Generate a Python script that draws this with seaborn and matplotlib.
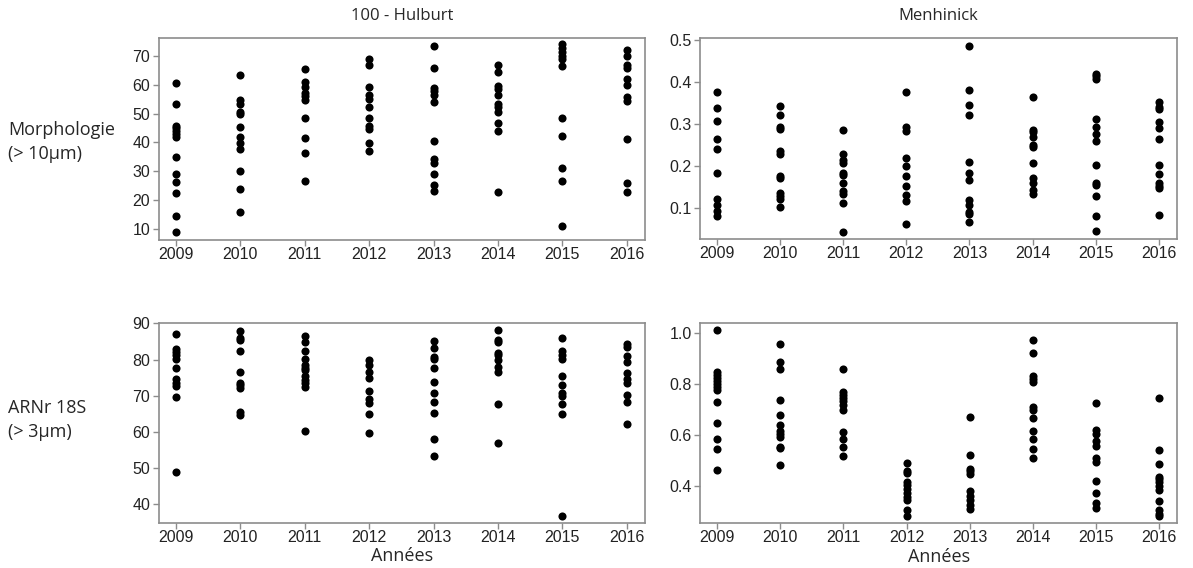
"""
Diversity indices (100 - Hulburt, Menhinick) per year,
morphology (> 10um) vs 18S rRNA (> 3um). Saves out.png.
"""

import pandas as pd
import matplotlib
matplotlib.use("Agg")
import matplotlib.pyplot as plt
import seaborn as sns

YEARS = [2009, 2010, 2011, 2012, 2013, 2014, 2015, 2016]

# one inner list per year (2009 -> 2016)
hulburt_morpho = [
    [60.4, 53.3, 45.8, 45.0, 44.0, 42.9, 42.0, 35.0, 29.0, 26.2, 22.7, 14.7, 9.1],
    [63.2, 54.6, 53.3, 50.5, 49.7, 45.4, 42.0, 39.9, 37.6, 30.0, 23.8, 16.0],
    [65.4, 61.0, 59.3, 57.0, 56.2, 54.7, 48.6, 41.7, 36.3, 26.7],
    [68.9, 66.9, 59.2, 56.3, 54.9, 52.3, 48.5, 45.6, 44.6, 39.8, 37.2],
    [73.3, 65.7, 58.9, 57.7, 56.5, 54.0, 40.5, 34.4, 32.8, 29.1, 25.4, 23.2],
    [66.7, 64.2, 59.6, 58.4, 56.3, 53.3, 52.2, 50.4, 46.9, 44.0, 22.9],
    [73.9, 72.5, 71.3, 69.9, 68.7, 66.3, 48.6, 42.2, 31.3, 26.7, 11.0],
    [72.0, 69.9, 66.9, 65.7, 62.1, 59.8, 55.8, 54.2, 41.3, 26.0, 23.0],
]
menhinick_morpho = [
    [0.377, 0.339, 0.308, 0.264, 0.241, 0.184, 0.122, 0.106, 0.092, 0.081],
    [0.343, 0.320, 0.292, 0.288, 0.236, 0.229, 0.176, 0.171, 0.136, 0.129, 0.121, 0.102],
    [0.285, 0.228, 0.215, 0.207, 0.184, 0.177, 0.158, 0.141, 0.132, 0.111, 0.041],
    [0.377, 0.293, 0.284, 0.219, 0.199, 0.176, 0.153, 0.130, 0.117, 0.062],
    [0.486, 0.381, 0.345, 0.322, 0.209, 0.184, 0.166, 0.118, 0.107, 0.090, 0.084, 0.067],
    [0.365, 0.286, 0.280, 0.269, 0.250, 0.244, 0.207, 0.171, 0.158, 0.142, 0.133],
    [0.420, 0.415, 0.407, 0.311, 0.293, 0.277, 0.260, 0.203, 0.160, 0.155, 0.127, 0.081, 0.044],
    [0.351, 0.341, 0.336, 0.305, 0.289, 0.264, 0.201, 0.181, 0.158, 0.153, 0.147, 0.083],
]
hulburt_18s = [
    [87.1, 82.9, 82.2, 81.2, 80.1, 77.6, 74.6, 73.5, 72.7, 69.6, 48.8],
    [87.9, 86.0, 85.4, 82.3, 76.6, 73.4, 72.9, 72.2, 65.4, 64.6],
    [86.6, 84.8, 82.3, 80.3, 78.6, 77.8, 77.1, 75.6, 74.5, 73.6, 72.4, 60.3],
    [79.8, 78.6, 76.7, 74.9, 71.2, 69.0, 68.0, 65.0, 59.7],
    [85.1, 83.3, 80.8, 80.1, 77.8, 73.9, 70.9, 68.3, 65.2, 58.0, 53.4],
    [88.3, 85.3, 84.8, 81.9, 81.2, 79.8, 77.9, 76.6, 67.6, 56.9],
    [85.9, 82.3, 81.3, 80.2, 75.6, 72.9, 70.7, 70.0, 67.6, 64.9, 36.8],
    [84.3, 83.5, 80.9, 79.4, 76.4, 74.6, 73.4, 70.1, 68.3, 62.1],
]
menhinick_18s = [
    [1.013, 0.848, 0.838, 0.826, 0.813, 0.800, 0.788, 0.779, 0.732, 0.647, 0.586, 0.545, 0.463],
    [0.957, 0.888, 0.861, 0.736, 0.680, 0.639, 0.616, 0.604, 0.593, 0.553, 0.548, 0.481],
    [0.860, 0.770, 0.758, 0.746, 0.735, 0.720, 0.698, 0.612, 0.583, 0.552, 0.518],
    [0.490, 0.460, 0.452, 0.417, 0.404, 0.388, 0.373, 0.358, 0.344, 0.307, 0.281],
    [0.672, 0.522, 0.469, 0.458, 0.448, 0.380, 0.363, 0.344, 0.327, 0.311],
    [0.975, 0.923, 0.831, 0.820, 0.809, 0.711, 0.699, 0.669, 0.618, 0.586, 0.546, 0.510],
    [0.725, 0.620, 0.603, 0.578, 0.558, 0.511, 0.495, 0.420, 0.371, 0.335, 0.316],
    [0.746, 0.541, 0.488, 0.437, 0.426, 0.416, 0.399, 0.384, 0.342, 0.306, 0.291, 0.281],
]

COL_TITLES = ["100 - Hulburt", "Menhinick"]
ROW_LABELS = ["Morphologie\n(> 10µm)", "ARNr 18S\n(> 3µm)"]
X_LABEL = "Années"


def to_frame(per_year):
    rows = [(y, v) for y, vals in zip(YEARS, per_year) for v in vals]
    return pd.DataFrame(rows, columns=["year", "value"])


sns.set_theme(style="white")
plt.rcParams["font.family"] = ["Liberation Sans", "DejaVu Sans"]
TICK_FONT = ["Liberation Sans", "DejaVu Sans"]
LABEL_FONT = ["Open Sans", "DejaVu Sans"]
SPINE = "#8c8c8c"

fig = plt.figure(figsize=(11.93, 5.68), dpi=100)
# [left, bottom, width, height] in figure fraction
boxes = {
    (0, 0): [0.133, 0.5775, 0.408, 0.355],
    (0, 1): [0.5868, 0.5785, 0.3998, 0.354],
    (1, 0): [0.133, 0.0798, 0.408, 0.352],
    (1, 1): [0.5868, 0.0787, 0.4002, 0.353],
}
panels = {
    (0, 0): (hulburt_morpho, (6.3, 76.0), [10, 20, 30, 40, 50, 60, 70], "{:.0f}"),
    (0, 1): (menhinick_morpho, (0.0245, 0.504), [0.1, 0.2, 0.3, 0.4, 0.5], "{:.1f}"),
    (1, 0): (hulburt_18s, (34.9, 90.2), [40, 50, 60, 70, 80, 90], "{:.0f}"),
    (1, 1): (menhinick_18s, (0.254, 1.041), [0.4, 0.6, 0.8, 1.0], "{:.1f}"),
}

for (r, c), (vals, ylim, yticks, fmt) in panels.items():
    ax = fig.add_axes(boxes[(r, c)])
    sns.scatterplot(data=to_frame(vals), x="year", y="value", ax=ax,
                    color="black", s=34, linewidth=0, legend=False)
    ax.set_xlim(2008.73, 2016.29)
    ax.set_ylim(*ylim)
    ax.set_xticks(YEARS)
    ax.set_xticklabels([str(y) for y in YEARS], family=TICK_FONT)
    ax.set_yticks(yticks)
    ax.set_yticklabels([fmt.format(t) for t in yticks], family=TICK_FONT)
    ax.tick_params(axis="both", bottom=True, left=True, direction="out",
                   length=4, width=1, color=SPINE, labelsize=11.5,
                   labelcolor="#222222", pad=2)
    ax.tick_params(axis="x", pad=1)
    for sp in ax.spines.values():
        sp.set_color(SPINE)
        sp.set_linewidth(1.2)
    ax.set_ylabel("")
    if r == 0:
        ax.set_title(COL_TITLES[c], fontsize=12, family=LABEL_FONT, pad=13)
        ax.set_xlabel("")
    else:
        ax.set_xlabel(X_LABEL, fontsize=13, family=LABEL_FONT, labelpad=2)

fig.text(0.007, 0.75, ROW_LABELS[0], fontsize=13, family=LABEL_FONT,
         va="center", ha="left", linespacing=1.45)
fig.text(0.007, 0.26, ROW_LABELS[1], fontsize=13, family=LABEL_FONT,
         va="center", ha="left", linespacing=1.45)

fig.savefig("out.png", dpi=100)
